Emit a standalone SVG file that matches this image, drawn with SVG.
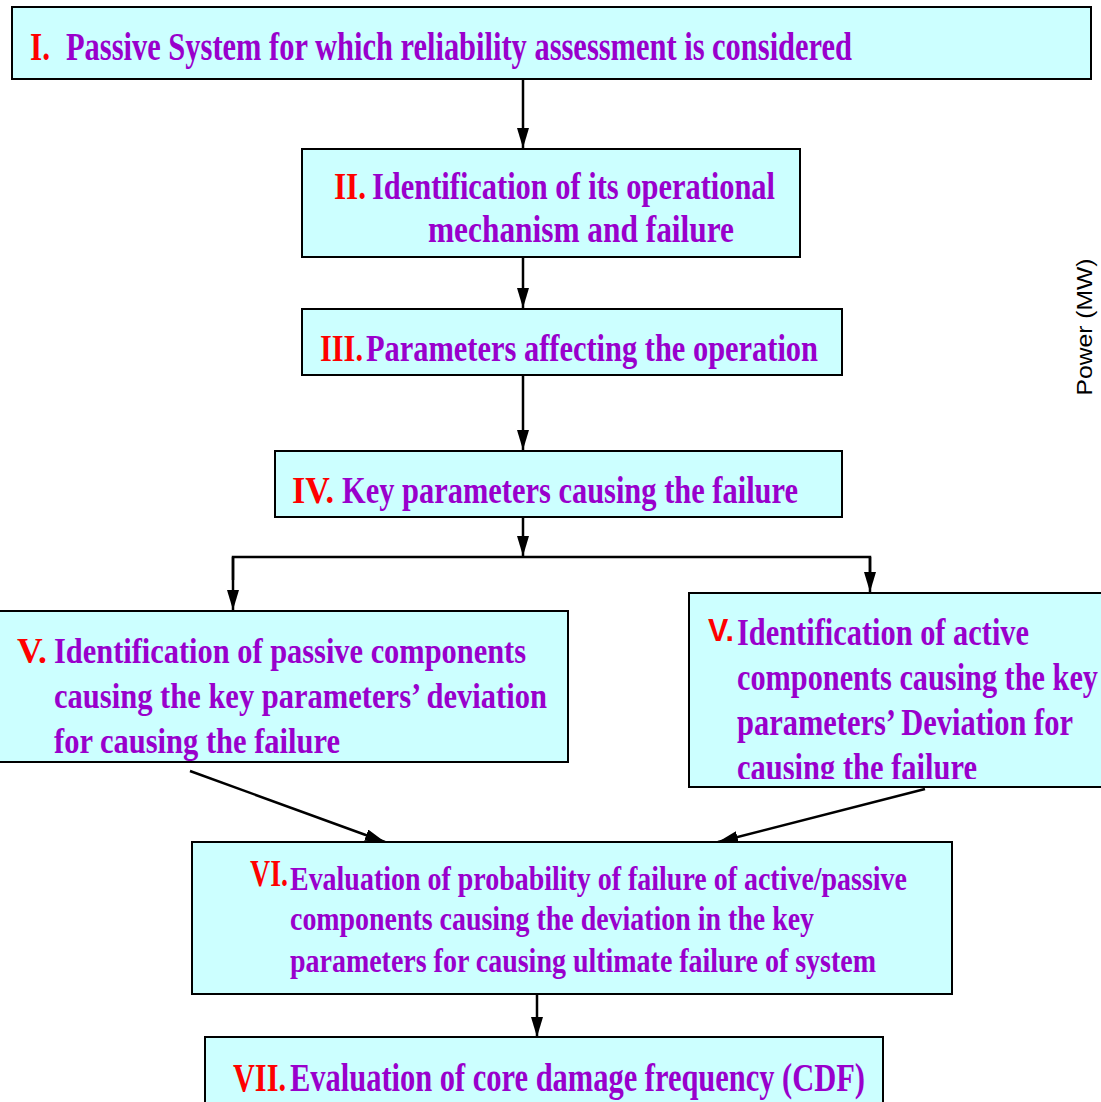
<svg xmlns="http://www.w3.org/2000/svg" width="1101" height="1102" viewBox="0 0 1101 1102">
<style>
.box{fill:#CCFFFF;stroke:#000;stroke-width:2}
.t{font-family:"Liberation Serif","Times New Roman",serif;font-weight:bold;fill:#9900CC}
.r{font-family:"Liberation Serif","Times New Roman",serif;font-weight:bold;fill:#FF0000}
.rs{font-family:"Liberation Sans",Arial,sans-serif;font-weight:bold;fill:#FF0000}
.c{stroke:#000;stroke-width:2.5;fill:none}
</style>
<defs>
<marker id="ah" viewBox="0 0 20 12" refX="20" refY="6" markerWidth="20" markerHeight="12" markerUnits="userSpaceOnUse" orient="auto">
<path d="M0,0 L20,6 L0,12 Z" fill="#000"/>
</marker>
<clipPath id="clipV2"><rect x="689" y="593" width="412" height="186"/></clipPath>
</defs>
<rect width="1101" height="1102" fill="#fff"/>

<g id="connectors">
<line class="c" x1="523" y1="79" x2="523" y2="148" marker-end="url(#ah)"/>
<line class="c" x1="523" y1="257" x2="523" y2="308" marker-end="url(#ah)"/>
<line class="c" x1="523" y1="375" x2="523" y2="450" marker-end="url(#ah)"/>
<line class="c" x1="523" y1="517" x2="523" y2="556" marker-end="url(#ah)"/>
<polyline class="c" points="233,580 233,557 870,557 870,575"/>
<line class="c" x1="233" y1="557" x2="233" y2="610" marker-end="url(#ah)"/>
<line class="c" x1="870" y1="557" x2="870" y2="592" marker-end="url(#ah)"/>
<line class="c" x1="190" y1="771" x2="385" y2="842" stroke-width="3" marker-end="url(#ah)"/>
<line class="c" x1="925" y1="789" x2="718" y2="842" stroke-width="3" marker-end="url(#ah)"/>
<line class="c" x1="537" y1="983" x2="537" y2="1037" marker-end="url(#ah)"/>
</g>

<g id="n1">
<rect class="box" x="12" y="7" width="1079" height="72"/>
<text class="r" x="30" y="60" font-size="39" textLength="20" lengthAdjust="spacingAndGlyphs">I.</text>
<text class="t" x="66" y="60" font-size="39" textLength="786" lengthAdjust="spacingAndGlyphs">Passive System for which reliability assessment is considered</text>
</g>

<g id="n2">
<rect class="box" x="302" y="149" width="498" height="108"/>
<text class="r" x="334" y="199" font-size="38" textLength="32" lengthAdjust="spacingAndGlyphs">II.</text>
<text class="t" x="372" y="199" font-size="38" textLength="403" lengthAdjust="spacingAndGlyphs">Identification of its operational</text>
<text class="t" x="428" y="242" font-size="38" textLength="306" lengthAdjust="spacingAndGlyphs">mechanism and  failure</text>
</g>

<g id="n3">
<rect class="box" x="302" y="309" width="540" height="66"/>
<text class="r" x="320" y="361" font-size="38" textLength="43" lengthAdjust="spacingAndGlyphs">III.</text>
<text class="t" x="366" y="361" font-size="38" textLength="452" lengthAdjust="spacingAndGlyphs">Parameters affecting the operation</text>
</g>

<g id="n4">
<rect class="box" x="275" y="451" width="567" height="66"/>
<text class="r" x="292" y="503" font-size="38" textLength="42" lengthAdjust="spacingAndGlyphs">IV.</text>
<text class="t" x="342" y="503" font-size="38" textLength="456" lengthAdjust="spacingAndGlyphs">Key parameters causing the failure</text>
</g>

<g id="n5a">
<rect class="box" x="-2" y="611" width="570" height="151"/>
<text class="r" x="17" y="663" font-size="36" textLength="30" lengthAdjust="spacingAndGlyphs">V.</text>
<text class="t" x="54" y="663" font-size="36" textLength="472" lengthAdjust="spacingAndGlyphs">Identification of passive components</text>
<text class="t" x="54" y="708" font-size="36" textLength="493" lengthAdjust="spacingAndGlyphs">causing the key parameters’ deviation</text>
<text class="t" x="54" y="753" font-size="36" textLength="286" lengthAdjust="spacingAndGlyphs">for causing the failure</text>
</g>

<g id="n5b">
<rect class="box" x="689" y="593" width="414" height="194"/>
<text class="rs" x="708" y="641" font-size="31" textLength="26" lengthAdjust="spacingAndGlyphs">V.</text>
<g clip-path="url(#clipV2)">
<text class="t" x="737" y="645" font-size="37" textLength="292" lengthAdjust="spacingAndGlyphs">Identification of active</text>
<text class="t" x="737" y="690" font-size="37" textLength="361" lengthAdjust="spacingAndGlyphs">components causing the key</text>
<text class="t" x="737" y="735" font-size="37" textLength="336" lengthAdjust="spacingAndGlyphs">parameters’ Deviation for</text>
<text class="t" x="737" y="780" font-size="37" textLength="240" lengthAdjust="spacingAndGlyphs">causing the failure</text>
</g>
</g>

<g id="n6">
<rect class="box" x="192" y="842" width="760" height="152"/>
<text class="r" x="250" y="886" font-size="37" textLength="38" lengthAdjust="spacingAndGlyphs">VI.</text>
<text class="t" x="290" y="890" font-size="33" textLength="617" lengthAdjust="spacingAndGlyphs">Evaluation of probability of failure of active/passive</text>
<text class="t" x="290" y="930" font-size="33" textLength="524" lengthAdjust="spacingAndGlyphs">components causing the deviation in the key</text>
<text class="t" x="290" y="972" font-size="33" textLength="586" lengthAdjust="spacingAndGlyphs">parameters for causing ultimate failure of system</text>
</g>

<g id="n7">
<rect class="box" x="205" y="1037" width="678" height="70"/>
<text class="r" x="233" y="1091" font-size="41" textLength="53" lengthAdjust="spacingAndGlyphs">VII.</text>
<text class="t" x="290" y="1091" font-size="41" textLength="575" lengthAdjust="spacingAndGlyphs">Evaluation of core damage frequency (CDF)</text>
</g>

<text x="1092" y="327" transform="rotate(-90 1092 327)" text-anchor="middle" font-family="Liberation Sans, Arial, sans-serif" font-size="22" fill="#000" textLength="137" lengthAdjust="spacingAndGlyphs">Power (MW)</text>
</svg>
